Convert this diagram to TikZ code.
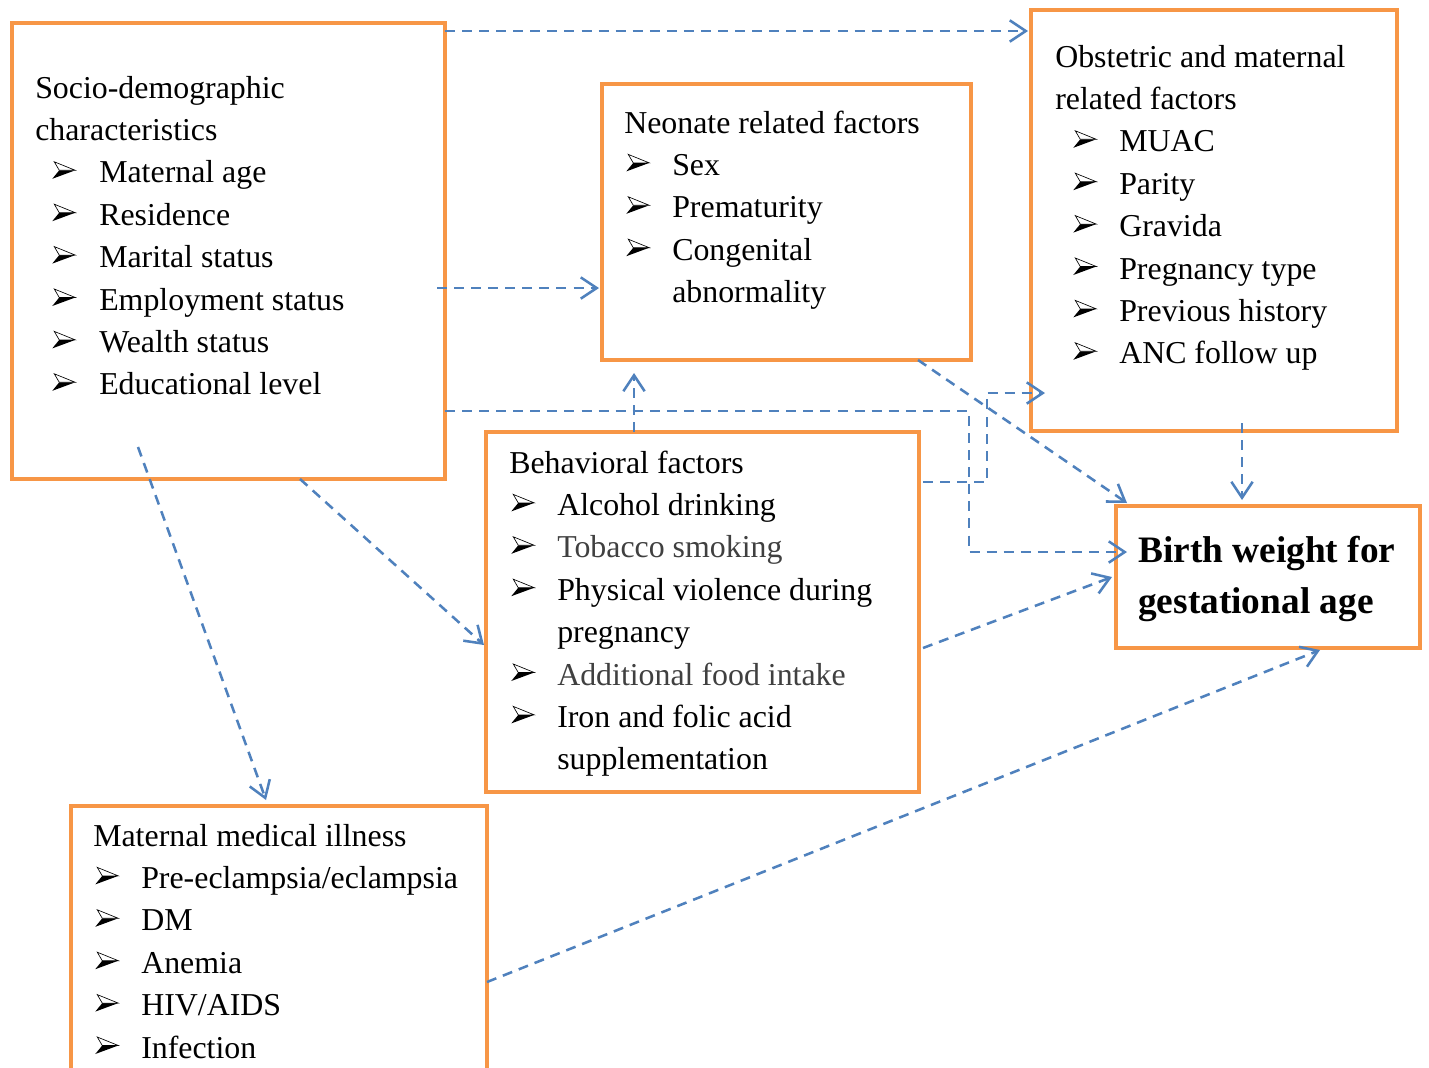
\documentclass[tikz,border=0pt]{standalone}
\usepackage{fontspec}
\setmainfont{Liberation Serif}
\usetikzlibrary{arrows.meta,calc}
\definecolor{boxor}{HTML}{F79646}
\definecolor{conblue}{HTML}{4F81BD}
\definecolor{txtgray}{HTML}{404040}
\newlength\px \setlength\px{0.75pt}
\newlength\bind \newlength\btxt
\newcommand\bul{\begin{tikzpicture}[x=0.75pt,y=0.75pt,baseline=0pt,line join=miter]
  \path[use as bounding box] (0,0) rectangle (23,21);
  \fill[black] (0,4) -- (23,12.5) -- (7,12.5) -- cycle;
  \filldraw[fill=white,draw=black,line width=0.5pt] (2,21) -- (23,12.5) -- (7,12.5) -- cycle;
\end{tikzpicture}}
\newcommand\itm[1]{\hspace*{\bind}\makebox[\btxt][l]{\bul}#1\par}
\newcommand\cont[1]{\hspace*{\bind}\hspace*{\btxt}#1\par}
\newcommand\blk[1]{\parbox[t]{560\px}{\fontsize{23.9}{31.8}\selectfont #1}}
\tikzset{
  box/.style={draw=boxor, line width=3.4pt, anchor=north west, inner sep=0pt, outer sep=0pt},
  txt/.style={anchor=base west, inner sep=0pt},
  conn/.style={draw=conblue, line width=1.9pt, dash pattern=on 7.5pt off 5.3pt,
    -{Straight Barb[length=12pt,width=16pt]}},
}
\newcommand\boxnode[5]{\node[box, minimum width=#4*0.75pt, minimum height=#5*0.75pt] (#1) at (#2,#3) {};}
\begin{document}
\begin{tikzpicture}[x=0.75pt, y=-0.75pt]
\useasboundingbox (0,0) rectangle (1429,1068);
\clip (0,0) rectangle (1429,1068);
\fill[white] (0,0) rectangle (1429,1068);
% boxes
\boxnode{socio}{12}{23}{433}{456}
\boxnode{neonate}{602}{84}{369}{276}
\boxnode{obst}{1031}{10}{366}{421}
\boxnode{behav}{486}{432}{433}{360}
\boxnode{birth}{1116}{506}{304}{142}
\boxnode{matern}{71}{806}{416}{300}
% texts
\node[txt] (sociotxt) at (35,98) {\blk{\setlength\bind{17\px}\setlength\btxt{47\px}%
Socio-demographic\par characteristics\par
\itm{Maternal age}\itm{Residence}\itm{Marital status}\itm{Employment status}\itm{Wealth status}\itm{Educational level}}};
\node[txt] (neotxt) at (624,133) {\blk{\setlength\bind{2\px}\setlength\btxt{46\px}%
Neonate related factors\par
\itm{Sex}\itm{Prematurity}\itm{Congenital}\cont{abnormality}}};
\node[txt] (obsttxt) at (1055,67) {\blk{\setlength\bind{18\px}\setlength\btxt{46\px}%
Obstetric and maternal\par related factors\par
\itm{MUAC}\itm{Parity}\itm{Gravida}\itm{Pregnancy type}\itm{Previous history}\itm{ANC follow up}}};
\node[txt] (behavtxt) at (509,473) {\blk{\setlength\bind{2\px}\setlength\btxt{46\px}%
Behavioral factors\par
\itm{Alcohol drinking}\itm{\textcolor{txtgray}{Tobacco smoking}}\itm{Physical violence during}\cont{pregnancy}\itm{\textcolor{txtgray}{Additional food intake}}\itm{Iron and folic acid}\cont{supplementation}}};
\node[txt] (materntxt) at (93,846) {\blk{\setlength\bind{2\px}\setlength\btxt{46\px}%
Maternal medical illness\par
\itm{Pre-eclampsia/eclampsia}\itm{DM}\itm{Anemia}\itm{HIV/AIDS}\itm{Infection}}};
\node[txt] (birthtxt) at (1138,562) {\parbox[t]{300\px}{\fontsize{28}{38.3}\selectfont\bfseries Birth weight for\par gestational age}};
% connectors
\draw[conn] (socio.east |- 0,31) -- ($(obst.west |- 0,31)+(-3,0)$);
\draw[conn] ($(socio.east |- 0,288)+(-8,0)$) -- ($(neonate.west |- 0,288)+(-3,0)$);
\draw[conn] (socio.east |- 0,411) -- (969,411) -- (969,552) -- ($(birth.west |- 0,552)+(11,0)$);
\draw[conn] ($(behav.east |- 0,482)+(4,0)$) -- (987,482) -- (987,393) -- ($(obst.west |- 0,393)+(14,0)$);
\draw[conn] ($(neonate.south east)+(-53,0)$) -- ($(birth.north west)+(11,-3)$);
\draw[conn] (634,0 |- behav.north) -- ($(neonate.south -| 634,0)+(0,13)$);
\draw[conn] ($(obst.south -| 1242,0)+(0,-8)$) -- ($(birth.north -| 1242,0)+(0,-6)$);
\draw[conn] ($(behav.east |- 0,648)+(4,0)$) -- ($(birth.west |- 0,577)+(-4,0)$);
\draw[conn] (socio.south -| 300,0) -- ($(behav.west |- 0,645)+(-2,0)$);
\draw[conn] ($(socio.south -| 138,0)+(0,-32)$) -- ($(matern.north -| 266,0)+(0,-6)$);
\draw[conn] (matern.east |- 0,982) -- ($(birth.south -| 1320,0)+(0,2)$);
\end{tikzpicture}
\end{document}
